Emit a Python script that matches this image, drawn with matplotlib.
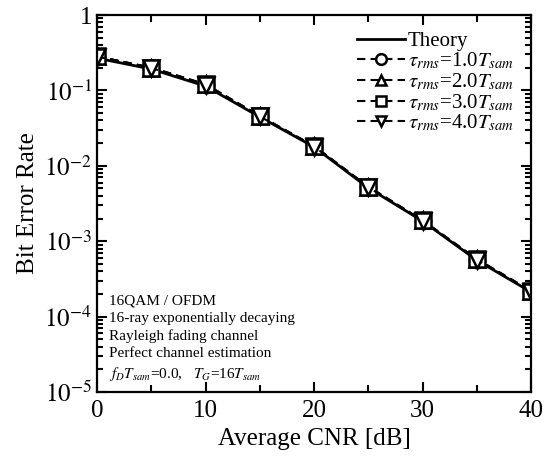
import matplotlib
matplotlib.use("Agg")
import matplotlib.pyplot as plt
from matplotlib.ticker import FixedLocator, NullFormatter, LogLocator

plt.rcParams['font.family'] = ['Liberation Serif', 'DejaVu Serif']
plt.rcParams['mathtext.fontset'] = 'stix'

cnr = [0, 5, 10, 15, 20, 25, 30, 35, 40]
theory = [0.268, 0.192, 0.114, 0.0445, 0.0178, 0.0051, 0.00185, 0.00056, 0.000212]
ber_tau1 = [0.281, 0.199, 0.119, 0.0455, 0.0181, 0.0052, 0.00188, 0.00057, 0.000216]
ber_tau2 = [0.282, 0.200, 0.120, 0.0458, 0.0182, 0.0053, 0.00189, 0.00058, 0.000218]
ber_tau3 = [0.283, 0.201, 0.121, 0.0460, 0.0183, 0.0053, 0.00190, 0.00058, 0.000220]
ber_tau4 = [0.280, 0.198, 0.118, 0.0452, 0.0180, 0.0052, 0.00187, 0.00057, 0.000215]

labels = [r'$\tau_{rms}$=1.0$T_{sam}$', r'$\tau_{rms}$=2.0$T_{sam}$',
          r'$\tau_{rms}$=3.0$T_{sam}$', r'$\tau_{rms}$=4.0$T_{sam}$']
markers = ['o', '^', 's', 'v']
series = [ber_tau1, ber_tau2, ber_tau3, ber_tau4]

fig = plt.figure(figsize=(5.5, 4.59), dpi=100)
ax = fig.add_axes([97/550, 1-392/459, (531-97)/550, (392-15)/459])

ax.plot(cnr, theory, '-', color='black', lw=2.0, label='Theory')
for s, m, lab in zip(series, markers, labels):
    ax.plot(cnr, s, '--', color='black', lw=1.5, marker=m, ms=11,
            mfc='white', mec='black', mew=1.8, label=lab, dashes=(4, 2.5))

ax.set_yscale('log')
ax.set_xlim(0, 40)
ax.set_ylim(1e-5, 1)
ax.set_xticks([0, 10, 20, 30, 40])
ax.set_xticklabels(['0', '10', '20', '30', '40'])
ax.xaxis.set_minor_locator(FixedLocator([5, 15, 25, 35]))
ax.set_yticks([1e-5, 1e-4, 1e-3, 1e-2, 1e-1, 1])
ax.set_yticklabels([r'$10^{-5}$', r'$10^{-4}$', r'$10^{-3}$', r'$10^{-2}$', r'$10^{-1}$', '1'])
ax.yaxis.set_minor_locator(LogLocator(base=10, subs=range(2, 10), numticks=20))
ax.yaxis.set_minor_formatter(NullFormatter())

ax.tick_params(which='both', direction='in', top=True, right=True, width=1.5, labelsize=18)
ax.tick_params(which='major', length=7)
ax.tick_params(which='minor', length=4)
ax.tick_params(axis='x', which='minor', length=5)
ax.tick_params(axis='x', pad=6)
for sp in ax.spines.values():
    sp.set_linewidth(1.6)

ax.set_xlabel('Average CNR [dB]', fontsize=18)
ax.set_ylabel('Bit Error Rate', fontsize=18)

leg = ax.legend(loc='upper right', frameon=False, fontsize=15, handlelength=2.3,
                handletextpad=0.15, labelspacing=0.0, markerscale=0.7,
                borderaxespad=0.2, bbox_to_anchor=(0.99, 0.99))

ax.text(0.027, 0.258,
        '16QAM / OFDM\n16-ray exponentially decaying\nRayleigh fading channel\nPerfect channel estimation\n'
        r'$f_D T_{sam}$=0.0,   $T_G$=16$T_{sam}$',
        transform=ax.transAxes, fontsize=11, va='top', ha='left', linespacing=1.4)

fig.savefig('out.png', dpi=100)
